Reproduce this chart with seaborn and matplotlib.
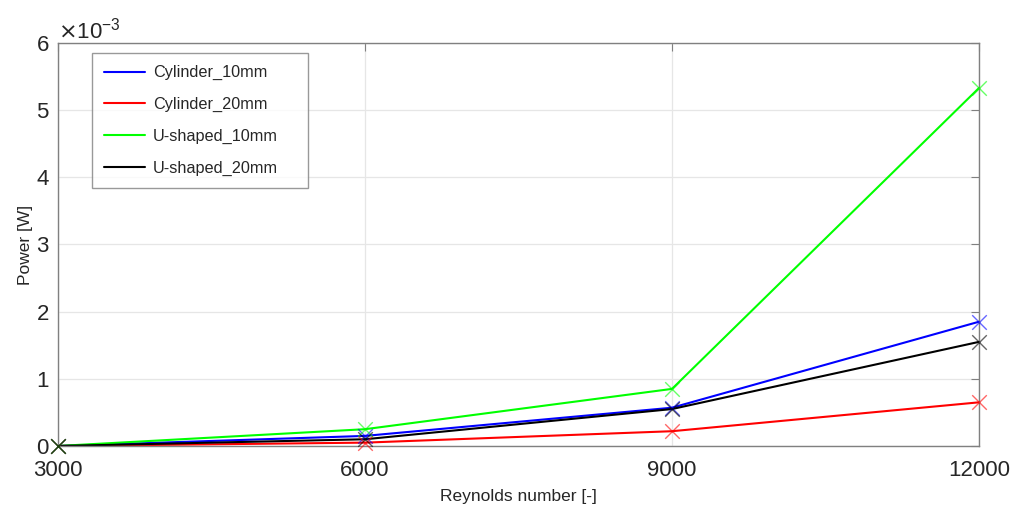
import numpy as np
import pandas as pd
import matplotlib
matplotlib.use('Agg')
import matplotlib.pyplot as plt
import seaborn as sns
from matplotlib.ticker import ScalarFormatter

sns.set_style('white')
plt.rcParams['font.family'] = ['Liberation Sans', 'DejaVu Sans']

# Data
reynolds = [3000, 6000, 9000, 12000]
cylinder_10mm = [0.0, 0.15e-3, 0.57e-3, 1.85e-3]
cylinder_20mm = [0.0, 0.05e-3, 0.22e-3, 0.65e-3]
ushaped_10mm = [0.0, 0.25e-3, 0.85e-3, 5.33e-3]
ushaped_20mm = [0.0, 0.10e-3, 0.55e-3, 1.55e-3]

series = {
    'Cylinder_10mm': cylinder_10mm,
    'Cylinder_20mm': cylinder_20mm,
    'U-shaped_10mm': ushaped_10mm,
    'U-shaped_20mm': ushaped_20mm,
}
colors = {
    'Cylinder_10mm': '#0000ff',
    'Cylinder_20mm': '#ff0000',
    'U-shaped_10mm': '#00ff00',
    'U-shaped_20mm': '#000000',
}

df = pd.DataFrame([
    {'Re': re, 'Power': p, 'case': name}
    for name, vals in series.items()
    for re, p in zip(reynolds, vals)
])

fig = plt.figure(figsize=(10.13, 5.09), dpi=100)
ax = fig.add_axes([0.0573, 0.1238, 0.9091, 0.7917])

for name in series:
    sub = df[df['case'] == name]
    sns.lineplot(data=sub, x='Re', y='Power', ax=ax, color=colors[name],
                 linewidth=1.5, label=name)
    sns.scatterplot(data=sub, x='Re', y='Power', ax=ax, color=colors[name],
                    marker='x', s=110, linewidth=1.0, alpha=0.6, legend=False,
                    zorder=3, clip_on=False)

ax.set_xlim(3000, 12000)
ax.set_ylim(0, 6e-3)
ax.set_xticks(reynolds)
ax.set_yticks(np.arange(0, 7e-3, 1e-3))

fmt = ScalarFormatter(useMathText=True)
fmt.set_powerlimits((-2, 2))
ax.yaxis.set_major_formatter(fmt)
ax.yaxis.get_offset_text().set_fontsize(16)
ax.yaxis.get_offset_text().set_color('#262626')

ax.grid(True, color='#e6e6e6', linewidth=0.9)
ax.set_axisbelow(True)
for sp in ax.spines.values():
    sp.set_color('#808080')
    sp.set_linewidth(1.0)
ax.tick_params(direction='in', length=6, width=0.8, color='#808080',
               top=True, right=True, labelsize=16, labelcolor='#262626')
ax.tick_params(axis='x', pad=10)
ax.tick_params(axis='y', pad=6)

ax.set_xlabel('Reynolds number [-]', fontsize=12.5, color='#262626', labelpad=6)
ax.set_ylabel('Power [W]', fontsize=12.5, color='#262626', labelpad=2)

# legend box spans a fixed width like the reference
leg = ax.legend(loc='upper left', bbox_to_anchor=(0.037, 0.0, 0.2345, 0.975),
                mode='expand', fontsize=11.7,
                frameon=True, fancybox=False, handlelength=2.5,
                labelspacing=1.03, borderpad=0.75, handletextpad=0.5,
                borderaxespad=0)
leg.get_frame().set_edgecolor('#808080')
leg.get_frame().set_linewidth(1.0)

fig.savefig('out.png', dpi=100)
